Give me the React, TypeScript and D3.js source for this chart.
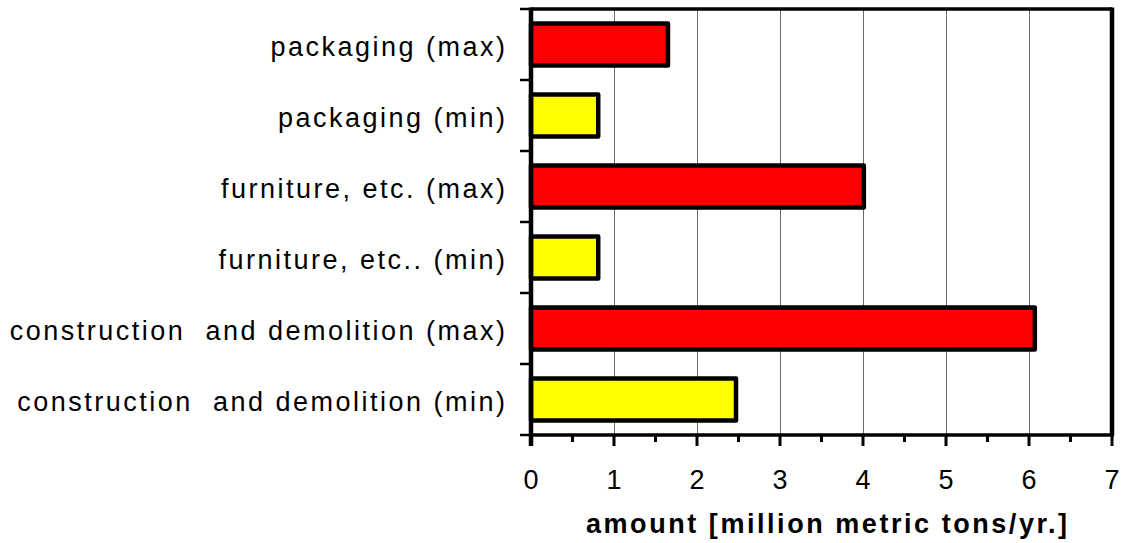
import React, { useEffect, useRef } from "react";
import * as d3 from "d3";

const categories = [
  "packaging (max)",
  "packaging (min)",
  "furniture, etc. (max)",
  "furniture, etc.. (min)",
  "construction  and demolition (max)",
  "construction  and demolition (min)",
];
const values = [1.65, 0.81, 4.01, 0.81, 6.07, 2.47];
const barColors = ["#ff0000", "#ffff00", "#ff0000", "#ffff00", "#ff0000", "#ffff00"];
const xTicks = [0, 1, 2, 3, 4, 5, 6, 7];
const xTitle = "amount [million metric tons/yr.]";

const W = 1122;
const H = 543;
const M = { left: 531, right: 10, top: 9, bottom: 108 };

export default function App() {
  const ref = useRef<SVGSVGElement>(null);
  useEffect(() => {
    const svg = d3.select(ref.current);
    svg.selectAll("*").remove();
    const x = d3.scaleLinear().domain([0, 7]).range([M.left, W - M.right]);
    const y = d3.scaleBand().domain(categories).range([M.top, H - M.bottom]);
    const font = "'Liberation Sans', Arial, sans-serif";
    const fs = 27;
    const ls = 2.5;

    // gridlines
    svg.append("g").selectAll("line").data(xTicks.slice(1, -1)).join("line")
      .attr("x1", (d) => Math.round(x(d)) + 0.5).attr("x2", (d) => Math.round(x(d)) + 0.5)
      .attr("y1", M.top).attr("y2", H - M.bottom)
      .attr("stroke", "#6a6a6a").attr("stroke-width", 1);

    // bars
    const bh = 42;
    svg.append("g").selectAll("rect").data(categories).join("rect")
      .attr("x", x(0))
      .attr("y", (d) => y(d)! + y.bandwidth() / 2 - bh / 2)
      .attr("width", (_d, i) => x(values[i]) - x(0))
      .attr("height", bh)
      .attr("fill", (_d, i) => barColors[i])
      .attr("stroke", "#000").attr("stroke-width", 4.5)
      .attr("stroke-linejoin", "round");

    // frame top/right
    svg.append("line").attr("x1", x(0)).attr("x2", x(7)).attr("y1", M.top).attr("y2", M.top)
      .attr("stroke", "#000").attr("stroke-width", 3.5);
    svg.append("line").attr("x1", x(7)).attr("x2", x(7)).attr("y1", M.top - 1.5).attr("y2", H - M.bottom)
      .attr("stroke", "#000").attr("stroke-width", 4.5);

    // bottom axis
    const yb = H - M.bottom;
    svg.append("line").attr("x1", x(0) - 2).attr("x2", x(7) + 2).attr("y1", yb).attr("y2", yb)
      .attr("stroke", "#000").attr("stroke-width", 3.5);
    const minor = d3.range(0, 7.01, 0.5);
    svg.append("g").selectAll("line").data(minor).join("line")
      .attr("x1", (d) => x(d)).attr("x2", (d) => x(d))
      .attr("y1", yb).attr("y2", (d) => yb + (Number.isInteger(d) ? 11 : 7))
      .attr("stroke", "#000").attr("stroke-width", 3);
    svg.append("g").selectAll("text").data(xTicks).join("text")
      .attr("x", (d) => x(d)).attr("y", 489)
      .attr("text-anchor", "middle")
      .attr("font-family", font).attr("font-size", fs)
      .text((d) => String(d));
    svg.append("text")
      .attr("x", 586).attr("y", 533)
      .attr("text-anchor", "start")
      .attr("font-family", font).attr("font-size", fs).attr("font-weight", "bold")
      .attr("letter-spacing", 2.55)
      .text(xTitle);

    // left axis
    svg.append("line").attr("x1", x(0)).attr("x2", x(0)).attr("y1", M.top - 1.5).attr("y2", yb + 11)
      .attr("stroke", "#000").attr("stroke-width", 4.5);
    const bounds = categories.map((c) => y(c)!).concat([yb]);
    svg.append("g").selectAll("line").data(bounds).join("line")
      .attr("x1", x(0) - 11).attr("x2", x(0)).attr("y1", (d) => d).attr("y2", (d) => d)
      .attr("stroke", "#000").attr("stroke-width", 2.5);
    svg.append("g").selectAll("text").data(categories).join("text")
      .attr("x", 505 + ls).attr("y", (d) => y(d)! + y.bandwidth() / 2 + 11)
      .attr("text-anchor", "end")
      .attr("font-family", font).attr("font-size", fs)
      .attr("letter-spacing", ls)
      .style("white-space", "pre")
      .text((d) => d);
  }, []);
  return (
    <svg ref={ref} width={W} height={H} style={{ position: "absolute", left: 0, top: 0, background: "#fff" }} />
  );
}
